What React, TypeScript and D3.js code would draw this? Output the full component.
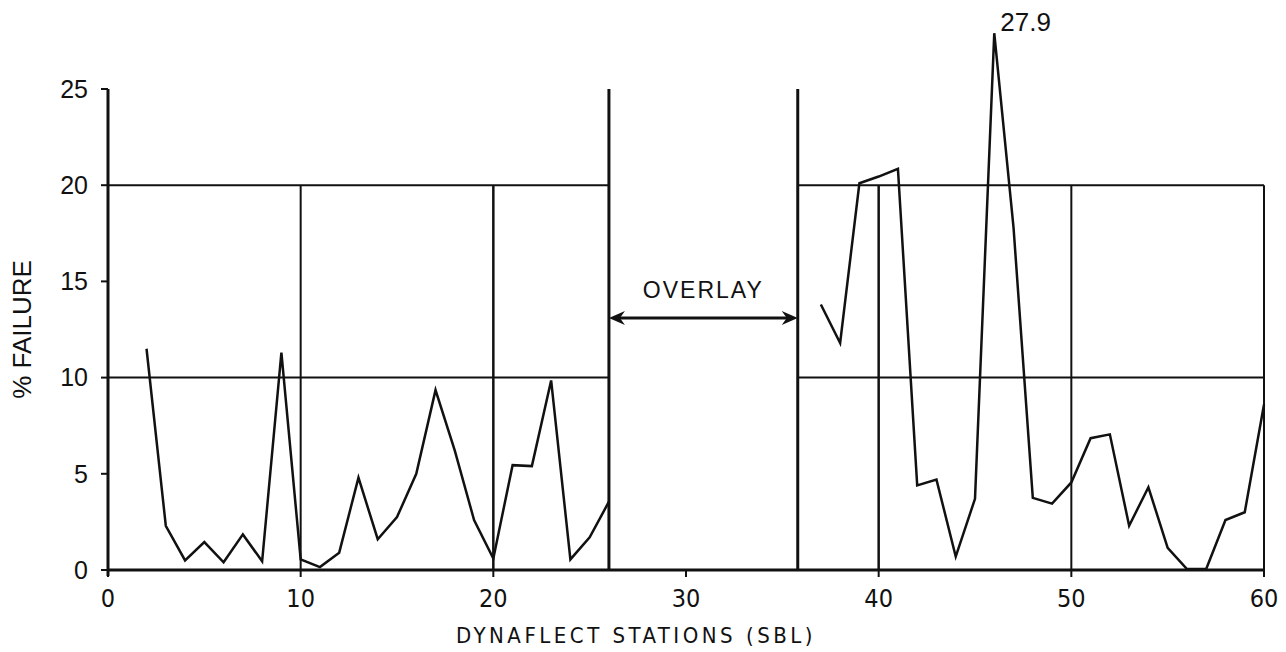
import React, { useEffect, useRef } from 'react';
import * as d3 from 'd3';

const WIDTH = 1286;
const HEIGHT = 652;

// stations before the overlay
const leftStations = [2, 3, 4, 5, 6, 7, 8, 9, 10, 11, 12, 13, 14, 15, 16, 17, 18, 19, 20, 21, 22, 23, 24, 25, 26];
const leftFailure = [11.5, 2.3, 0.5, 1.45, 0.4, 1.85, 0.45, 11.3, 0.55, 0.15, 0.9, 4.8, 1.6, 2.75, 5.0, 9.35, 6.2, 2.6, 0.6, 5.45, 5.4, 9.85, 0.55, 1.7, 3.55];

// stations after the overlay
const rightStations = [37, 38, 39, 40, 41, 42, 43, 44, 45, 46, 47, 48, 49, 50, 51, 52, 53, 54, 55, 56, 57, 58, 59, 60];
const rightFailure = [13.8, 11.8, 20.1, 20.45, 20.85, 4.4, 4.7, 0.7, 3.7, 27.9, 17.8, 3.75, 3.45, 4.55, 6.85, 7.05, 2.3, 4.3, 1.15, 0.05, 0.05, 2.6, 3.0, 8.6];

const xTicks = [0, 10, 20, 30, 40, 50, 60];
const yTicks = [0, 5, 10, 15, 20, 25];
const gridLevels = [10, 20];
const panels = [[0, 26], [35.8, 60]];
const gridStations = [10, 20, 40, 50, 60];
const overlayBounds = [26, 35.8];
const overlayLevel = 13.1;
const peakLabel = { station: 46, value: 27.9, text: '27.9' };

export default function App() {
  const ref = useRef<SVGSVGElement>(null);

  useEffect(() => {
    document.body.style.margin = '0';
    const svg = d3.select(ref.current);
    svg.selectAll('*').remove();

    const x = d3.scaleLinear().domain([0, 60]).range([108, 1264]);
    const y = d3.scaleLinear().domain([0, 25]).range([570, 89]);

    const g = svg.append('g').attr('stroke', '#111').attr('fill', 'none');

    // grid boxes
    panels.forEach(([a, b]) => {
      gridLevels.forEach(v => {
        g.append('line')
          .attr('x1', x(a)).attr('x2', x(b))
          .attr('y1', y(v)).attr('y2', y(v))
          .attr('stroke-width', 2);
      });
    });
    gridStations.forEach(s => {
      g.append('line')
        .attr('x1', x(s)).attr('x2', x(s))
        .attr('y1', y(0)).attr('y2', y(20))
        .attr('stroke-width', s === 20 || s === 40 ? 2.5 : 2);
    });
    overlayBounds.forEach(s => {
      g.append('line')
        .attr('x1', x(s)).attr('x2', x(s))
        .attr('y1', y(0)).attr('y2', y(25))
        .attr('stroke-width', 3);
    });

    // axes
    g.append('line')
      .attr('x1', x(0)).attr('x2', x(0))
      .attr('y1', y(0) + 6).attr('y2', y(25))
      .attr('stroke-width', 3);
    g.append('line')
      .attr('x1', x(0)).attr('x2', x(60))
      .attr('y1', y(0)).attr('y2', y(0))
      .attr('stroke-width', 3);

    xTicks.forEach(t => {
      g.append('line')
        .attr('x1', x(t)).attr('x2', x(t))
        .attr('y1', y(0)).attr('y2', y(0) + 7)
        .attr('stroke-width', 2);
    });
    yTicks.forEach(t => {
      g.append('line')
        .attr('x1', x(0) - 7).attr('x2', x(0))
        .attr('y1', y(t)).attr('y2', y(t))
        .attr('stroke-width', 2);
    });

    const text = svg.append('g').attr('fill', '#111');

    text.selectAll('.xt')
      .data(xTicks)
      .enter()
      .append('text')
      .attr('x', d => x(d))
      .attr('y', 607)
      .attr('text-anchor', 'middle')
      .attr('font-family', '"DejaVu Sans Condensed", "Liberation Sans Narrow", sans-serif')
      .attr('font-size', 25)
      .text(d => d);

    text.selectAll('.yt')
      .data(yTicks)
      .enter()
      .append('text')
      .attr('x', 88)
      .attr('y', d => y(d))
      .attr('dy', '0.35em')
      .attr('text-anchor', 'end')
      .attr('font-family', '"Liberation Sans", Arial, sans-serif')
      .attr('font-size', 25)
      .text(d => d);

    text.append('text')
      .attr('x', 636)
      .attr('y', 643)
      .attr('text-anchor', 'middle')
      .attr('font-family', '"DejaVu Sans Condensed", "Liberation Sans Narrow", sans-serif')
      .attr('font-size', 22)
      .attr('letter-spacing', 3.5)
      .text('DYNAFLECT STATIONS (SBL)');

    text.append('text')
      .attr('transform', `translate(31, ${y(12.5)}) rotate(-90)`)
      .attr('text-anchor', 'middle')
      .attr('font-family', '"Liberation Sans", Arial, sans-serif')
      .attr('font-size', 26)
      .text('% FAILURE');

    // overlay arrow
    const ay = y(overlayLevel);
    const ax1 = x(overlayBounds[0]);
    const ax2 = x(overlayBounds[1]);
    g.append('line')
      .attr('x1', ax1 + 8).attr('x2', ax2 - 8)
      .attr('y1', ay).attr('y2', ay)
      .attr('stroke-width', 3);
    text.append('path')
      .attr('d', `M${ax1},${ay} L${ax1 + 16},${ay - 7} L${ax1 + 11},${ay} L${ax1 + 16},${ay + 7} Z`);
    text.append('path')
      .attr('d', `M${ax2},${ay} L${ax2 - 16},${ay - 7} L${ax2 - 11},${ay} L${ax2 - 16},${ay + 7} Z`);
    text.append('text')
      .attr('x', (ax1 + ax2) / 2)
      .attr('y', ay - 20)
      .attr('text-anchor', 'middle')
      .attr('font-family', '"Liberation Sans", Arial, sans-serif')
      .attr('font-size', 23)
      .attr('letter-spacing', 2)
      .text('OVERLAY');

    // data lines
    const line = d3.line<[number, number]>()
      .x(d => x(d[0]))
      .y(d => y(d[1]));

    [
      d3.zip(leftStations, leftFailure),
      d3.zip(rightStations, rightFailure),
    ].forEach(series => {
      g.append('path')
        .attr('d', line(series as [number, number][]))
        .attr('stroke-width', 2.5)
        .attr('stroke-linejoin', 'miter');
    });

    text.append('text')
      .attr('x', x(peakLabel.station) + 6)
      .attr('y', y(peakLabel.value) - 2)
      .attr('font-family', '"Liberation Sans", Arial, sans-serif')
      .attr('font-size', 26)
      .text(peakLabel.text);
  }, []);

  return <svg ref={ref} width={WIDTH} height={HEIGHT} style={{ display: 'block', background: '#fff' }} />;
}
